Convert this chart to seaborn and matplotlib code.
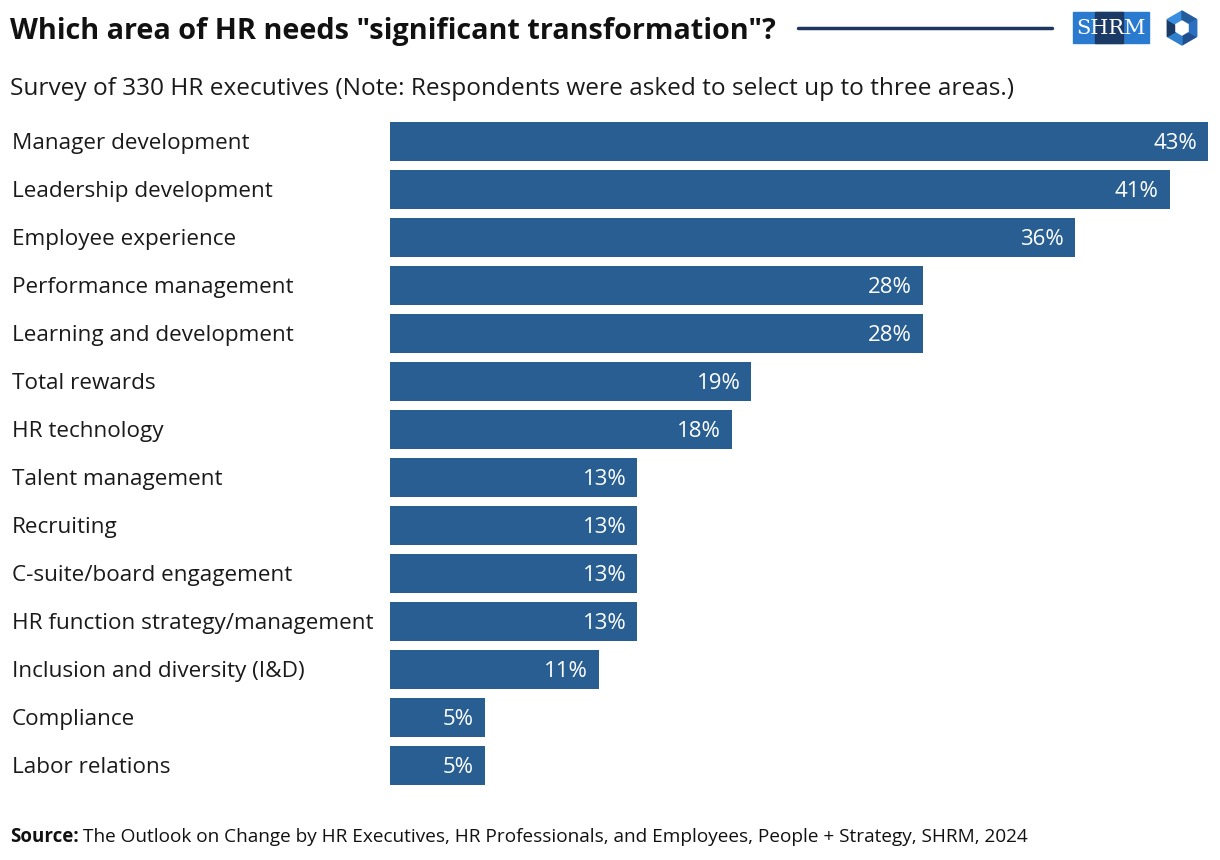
import matplotlib.pyplot as plt
import matplotlib.patches as mpatches
import matplotlib.transforms as mtrans
import numpy as np
import pandas as pd
import seaborn as sns

areas = ['Manager development', 'Leadership development', 'Employee experience',
         'Performance management', 'Learning and development', 'Total rewards',
         'HR technology', 'Talent management', 'Recruiting',
         'C-suite/board engagement', 'HR function strategy/management',
         'Inclusion and diversity (I&D)', 'Compliance', 'Labor relations']
shares = [43, 41, 36, 28, 28, 19, 18, 13, 13, 13, 13, 11, 5, 5]

BAR = '#285e92'
NAVY = '#1c3760'

sns.set_theme(style='white')
plt.rcParams['font.family'] = ['Open Sans', 'DejaVu Sans']

df = pd.DataFrame({'area': areas, 'share': shares})

fig = plt.figure(figsize=(12.2, 8.6), dpi=100)
W, H = 1220, 860
ax = fig.add_axes([390 / W, 1 - 789.5 / H, 818 / W, 672 / H])
sns.barplot(data=df, x='share', y='area', color=BAR, saturation=1,
            width=0.81, linewidth=0, ax=ax)
ax.set_xlim(0, 43)
ax.set_ylim(len(areas) - 0.5, -0.5)
ax.set_xlabel('')
ax.set_ylabel('')
ax.set_xticks([])
ax.set_yticks([])
for s in ax.spines.values():
    s.set_visible(False)

# labels sit a touch low in the original, nudge down ~2px
nudge = mtrans.ScaledTranslation(0, -0.02, fig.dpi_scale_trans)
lab_tr = mtrans.blended_transform_factory(fig.transFigure, ax.transData) + nudge
for i, (a, v) in enumerate(zip(areas, shares)):
    ax.text(12 / W, i, a, transform=lab_tr, ha='left', va='center',
            fontsize=16.2, color='#1a1a1a')
    ax.annotate(f'{v}%', (v, i), xytext=(-8, -1.5), textcoords='offset points',
                ha='right', va='center', fontsize=16, color='white')

fig.text(10 / W, 1 - 32 / H, 'Which area of HR needs "significant transformation"?',
         fontsize=20.8, fontweight='bold', va='center', color='#111111')
fig.add_artist(plt.Line2D([798 / W, 1052 / W], [1 - 28 / H] * 2,
                          color=NAVY, lw=2.5))
fig.text(10 / W, 1 - 89 / H,
         'Survey of 330 HR executives (Note: Respondents were asked to select up to three areas.)',
         fontsize=17.6, va='center', color='#1a1a1a')
fig.text(10 / W, 1 - 837 / H, 'Source:', fontsize=13.5, fontweight='bold',
         va='center', color='#111111')
fig.text(83 / W, 1 - 837 / H,
         'The Outlook on Change by HR Executives, HR Professionals, and Employees, People + Strategy, SHRM, 2024',
         fontsize=13.7, va='center', color='#111111')

# logo
fig.add_artist(mpatches.Rectangle((1073 / W, 1 - 43 / H), 76 / W, 31 / H,
                                  transform=fig.transFigure, color='#2a7bd0'))
fig.add_artist(mpatches.Rectangle((1095 / W, 1 - 43 / H), 28 / W, 31 / H,
                                  transform=fig.transFigure, color='#1c3a66'))
fig.text(1111 / W, 1 - 28 / H, 'SHRM', fontsize=15, family='DejaVu Serif',
         color='white', ha='center', va='center')
ang = np.deg2rad(np.arange(0, 360, 60) + 30)
hx = 1182 + 17 * np.cos(ang)
hy = 28 + 17 * np.sin(ang)
shades = ['#1f4f8f', '#2f7fcf', '#1c3a66', '#3a8ee0', '#245c9e', '#2a6fc0']
for k in range(6):
    j = (k + 1) % 6
    fig.add_artist(mpatches.Polygon(
        [[hx[k] / W, 1 - hy[k] / H], [hx[j] / W, 1 - hy[j] / H],
         [1182 / W, 1 - 28 / H]], closed=True,
        transform=fig.transFigure, color=shades[k]))
ix = 1182 + 7 * np.cos(ang)
iy = 28 + 7 * np.sin(ang)
fig.add_artist(mpatches.Polygon(np.c_[ix / W, 1 - iy / H], closed=True,
                                transform=fig.transFigure, color='white'))

fig.savefig('out.png', dpi=100)
